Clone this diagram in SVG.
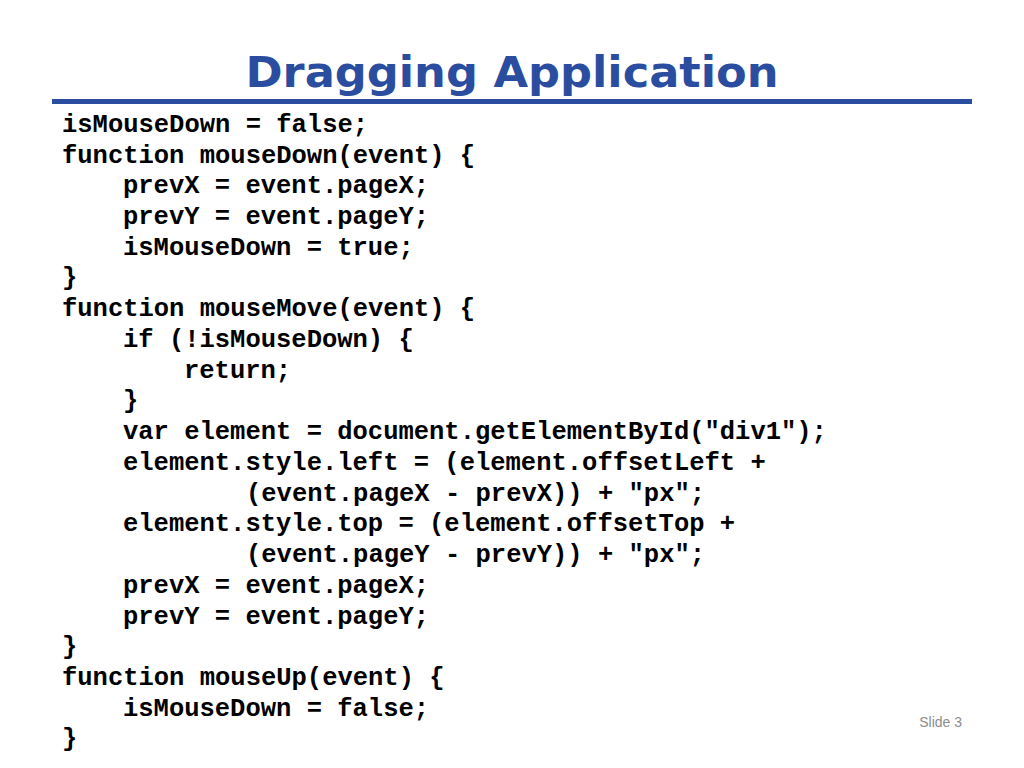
<svg xmlns="http://www.w3.org/2000/svg" width="1024" height="768" viewBox="0 0 1024 768">
<style>
.c{font-family:"Liberation Mono","Courier New",monospace;font-weight:bold;font-size:25.5px;fill:#000}
</style>
<rect width="1024" height="768" fill="#fff"/>
<text x="512" y="87" text-anchor="middle" font-family="DejaVu Sans,Verdana,sans-serif" font-weight="bold" font-size="42" fill="#2a4d9f" textLength="533" lengthAdjust="spacingAndGlyphs">Dragging Application</text>
<rect x="52" y="99" width="920" height="5" fill="#2a4d9f"/>
<g class="c">
<text x="62" y="132">isMouseDown = false;</text>
<text x="62" y="163">function mouseDown(event) {</text>
<text x="123" y="193">prevX = event.pageX;</text>
<text x="123" y="224">prevY = event.pageY;</text>
<text x="123" y="255">isMouseDown = true;</text>
<text x="62" y="285">}</text>
<text x="62" y="316">function mouseMove(event) {</text>
<text x="123" y="347">if (!isMouseDown) {</text>
<text x="184" y="378">return;</text>
<text x="123" y="408">}</text>
<text x="123" y="439">var element = document.getElementById("div1");</text>
<text x="123" y="470">element.style.left = (element.offsetLeft +</text>
<text x="246" y="501">(event.pageX - prevX)) + "px";</text>
<text x="123" y="531">element.style.top = (element.offsetTop +</text>
<text x="246" y="562">(event.pageY - prevY)) + "px";</text>
<text x="123" y="593">prevX = event.pageX;</text>
<text x="123" y="624">prevY = event.pageY;</text>
<text x="62" y="654">}</text>
<text x="62" y="685">function mouseUp(event) {</text>
<text x="123" y="716">isMouseDown = false;</text>
<text x="62" y="746">}</text>
</g>
<text x="962" y="727" text-anchor="end" font-family="Liberation Sans,Arial,sans-serif" font-size="14" fill="#8c8c8c">Slide 3</text>
</svg>
